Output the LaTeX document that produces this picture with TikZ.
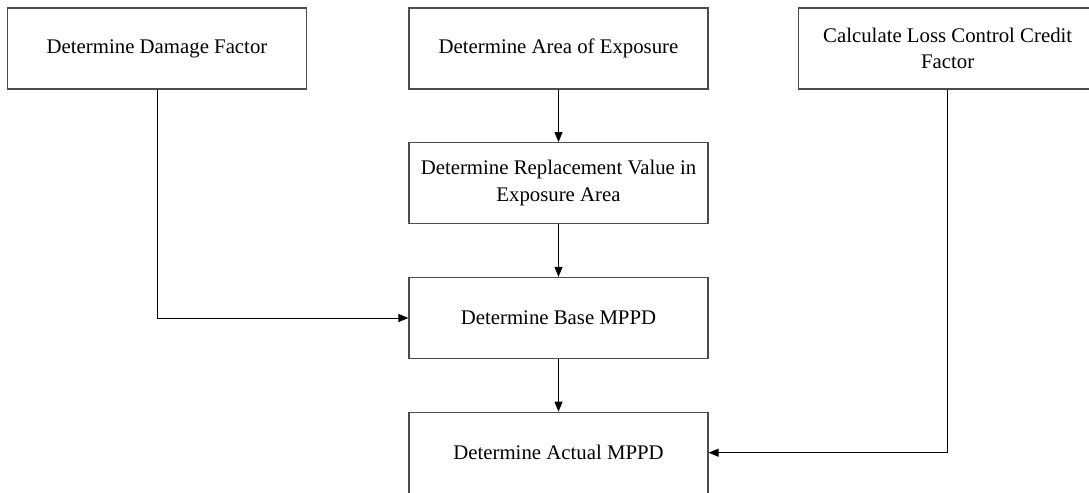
\documentclass[tikz,border=0pt]{standalone}
\usepackage{fontspec}
\setmainfont{Liberation Serif}
\usetikzlibrary{positioning, arrows.meta}

\begin{document}
\begin{tikzpicture}[x=0.5pt, y=-0.5pt,
  stepbox/.style={draw=black!70, line width=0.6pt, minimum width=149.5pt, minimum height=40.5pt, align=center, inner sep=2pt, font=\fontsize{10.4}{13.3}\selectfont},
  flow/.style={draw=black, line width=0.5pt, -{Triangle[length=5pt, width=4pt]}}]

% Fix the picture size
\useasboundingbox (0, 0) rectangle (1089, 493);

% Draw the top row of boxes
\node[stepbox] (damage) at (157, 48.5) {Determine Damage Factor};
\node[stepbox] (area) at (558.5, 48.5) {Determine Area of Exposure};
\node[stepbox] (credit) at (947.7, 48.5) {Calculate Loss Control Credit\\Factor};

% Draw the middle column
\node[stepbox] (replace) at (558.5, 183.2) {Determine Replacement Value in\\Exposure Area};
\node[stepbox] (base) at (558.5, 318) {Determine Base MPPD};
\node[stepbox] (actual) at (558.5, 452.7) {Determine Actual MPPD};

% Draw the arrows
\draw[flow] (area.south) -- (replace.north);
\draw[flow] (replace.south) -- (base.north);
\draw[flow] (base.south) -- (actual.north);
\draw[flow] (damage.south) |- (base.west);
\draw[flow] (credit.south) |- (actual.east);

\end{tikzpicture}
\end{document}
